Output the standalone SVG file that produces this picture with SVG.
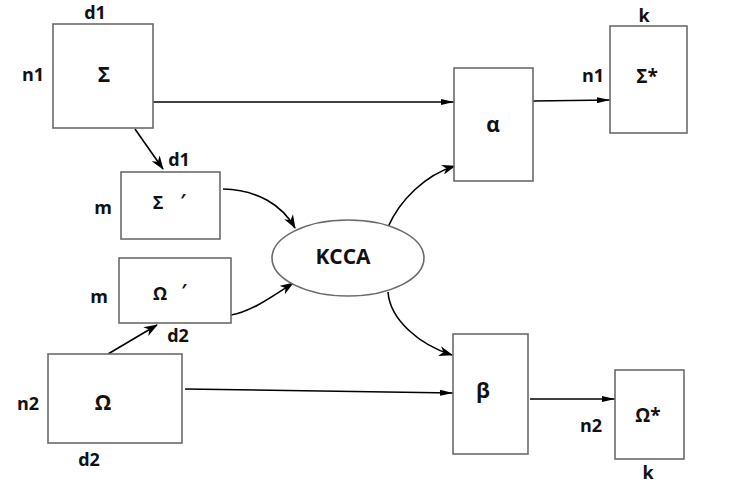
<svg xmlns="http://www.w3.org/2000/svg" width="736" height="490" viewBox="0 0 736 490">
<style>
.box{fill:#fff;stroke:#6b6b6b;stroke-width:1.6}
.t{font-family:"Open Sans","Noto Sans","DejaVu Sans",sans-serif;font-weight:bold;font-size:18px;fill:#111;text-anchor:middle;white-space:pre}
.g{font-size:21px}
.c{fill:none;stroke:#000;stroke-width:1.6}
</style>
<defs>
<marker id="barb" viewBox="0 0 14 10" refX="13" refY="5" markerWidth="14" markerHeight="10" markerUnits="userSpaceOnUse" orient="auto">
<path d="M0,0 L14,5 L0,10 L4,5 z" fill="#000"/>
</marker>
<marker id="slim" viewBox="0 0 13 6" refX="13" refY="3" markerWidth="13" markerHeight="6" markerUnits="userSpaceOnUse" orient="auto">
<path d="M0,0 L13,3 L0,6 z" fill="#000"/>
</marker>
</defs>
<rect width="736" height="490" fill="#fff"/>
<g id="connectors">
<path class="c" d="M153,102 L454,102" marker-end="url(#slim)"/>
<path class="c" d="M533,101 L610,100" marker-end="url(#slim)"/>
<path class="c" d="M185,389 L453,393" marker-end="url(#slim)"/>
<path class="c" d="M530,399 L615,399" marker-end="url(#slim)"/>
<path class="c" d="M135,129 L163,169" marker-end="url(#barb)"/>
<path class="c" d="M108,354 L157,325" marker-end="url(#barb)"/>
<path class="c" d="M223,189 C258,190 282,205 295,228" marker-end="url(#barb)"/>
<path class="c" d="M231,315 C250,312 270,298 293,283" marker-end="url(#barb)"/>
<path class="c" d="M388,227 C400,200 425,175 455,166" marker-end="url(#barb)"/>
<path class="c" d="M388,292 C390,320 420,345 452,355" marker-end="url(#barb)"/>
</g>
<g id="sigma">
<rect class="box" x="53" y="24" width="100" height="104"/>
<text class="t g" x="104" y="82">Σ</text>
<text class="t" x="95" y="19">d1</text>
<text class="t" x="33" y="81">n1</text>
</g>
<g id="sigma-prime">
<rect class="box" x="121" y="172" width="99" height="67"/>
<text class="t" x="158" y="209">Σ</text>
<text class="t" x="183" y="207">′</text>
<text class="t" x="179" y="166">d1</text>
<text class="t" x="103" y="214">m</text>
</g>
<g id="omega-prime">
<rect class="box" x="119" y="258" width="112" height="65"/>
<text class="t" x="160" y="300">Ω</text>
<text class="t" x="184" y="297">′</text>
<text class="t" x="99" y="303">m</text>
<text class="t" x="178" y="342">d2</text>
</g>
<g id="omega">
<rect class="box" x="48" y="354" width="134" height="89"/>
<text class="t g" x="103" y="410">Ω</text>
<text class="t" x="28" y="410">n2</text>
<text class="t" x="89" y="466">d2</text>
</g>
<g id="kcca">
<ellipse class="box" cx="348" cy="258" rx="76" ry="38"/>
<text class="t" x="343" y="264" style="font-size:21px">KCCA</text>
</g>
<g id="alpha">
<rect class="box" x="454" y="68" width="79" height="113"/>
<text class="t g" x="493" y="132">α</text>
</g>
<g id="sigma-star">
<rect class="box" x="610" y="26" width="77" height="107"/>
<text class="t" x="647" y="83" style="font-size:19px">Σ*</text>
<text class="t" x="593" y="82">n1</text>
<text class="t" x="644" y="22">k</text>
</g>
<g id="beta">
<rect class="box" x="453" y="334" width="75" height="120"/>
<text class="t g" x="483" y="398">β</text>
</g>
<g id="omega-star">
<rect class="box" x="615" y="370" width="69" height="89"/>
<text class="t" x="648" y="422" style="font-size:19px">Ω*</text>
<text class="t" x="591" y="432">n2</text>
<text class="t" x="648" y="479">k</text>
</g>
</svg>
